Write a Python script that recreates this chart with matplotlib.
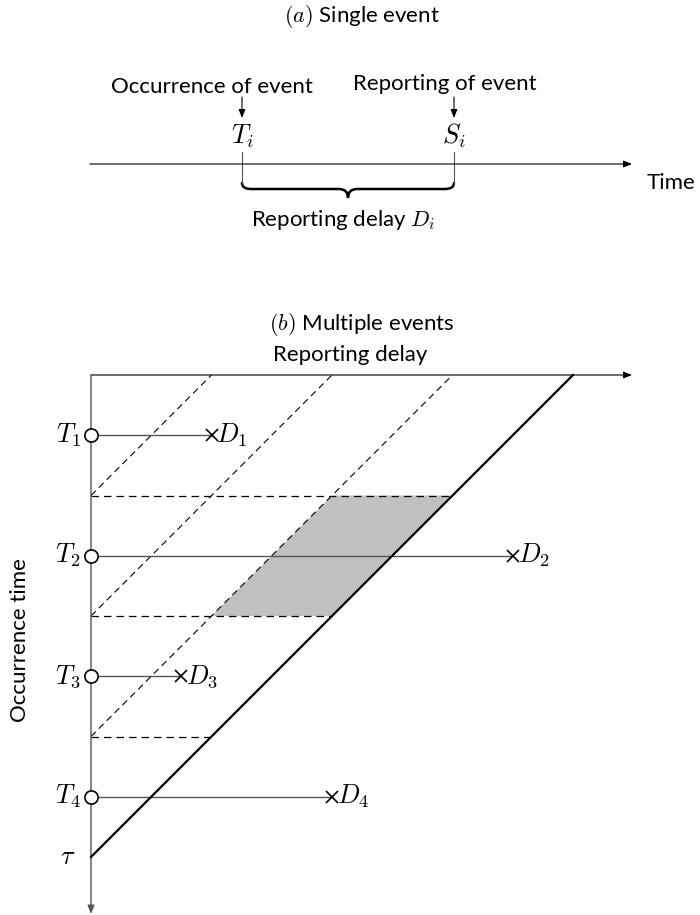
import numpy as np
import matplotlib.pyplot as plt
from matplotlib.path import Path
from matplotlib.patches import PathPatch

plt.rcParams['font.family'] = ['Lato', 'DejaVu Sans']
plt.rcParams['mathtext.fontset'] = 'cm'

# panel (a): one event
occ_time = 0.0      # T_i
rep_time = 1.0      # S_i

# panel (b): several events
T = [0.5, 1.5, 2.5, 3.5]          # occurrence times
D = [1.0, 3.5, 0.75, 2.0]         # reporting delays
tau = 4.0
grid = [1.0, 2.0, 3.0]            # dashed grid levels
cell_rows = (1.0, 2.0)            # occurrence band of shaded cell
cell_report = (3.0, tau)          # reporting-time band of shaded cell

W, H = 700, 915
fig = plt.figure(figsize=(W / 100, H / 100), dpi=100)

split = 335
tcol = '#555555'
fs = 16
ms_fs = 19
arrow = '-|>,head_length=0.5,head_width=0.2'

# ---------- (a) single event ----------
ax1 = fig.add_axes([0, 1 - split / H, 1, split / H])
sx = 212.0          # px per unit
x0 = 242.0
ax1.set_xlim(-x0 / sx, (W - x0) / sx)
ax1.set_ylim(split, 0)
ax1.axis('off')

yl = 164
ax1.annotate('', xy=((632 - x0) / sx, yl), xytext=((90 - x0) / sx, yl),
             arrowprops=dict(arrowstyle=arrow, color='black', lw=0.8,
                             shrinkA=0, shrinkB=0))
ax1.text((647 - x0) / sx, 183, 'Time', fontsize=fs, va='center', ha='left')

for t, lab in [(occ_time, r'$T_i$'), (rep_time, r'$S_i$')]:
    ax1.plot([t, t], [152, 184], color=tcol, lw=0.8)
    ax1.text(t, 136, lab, fontsize=ms_fs, ha='center', va='center')
    ax1.annotate('', xy=(t, 118), xytext=(t, 97),
                 arrowprops=dict(arrowstyle=arrow, color='black', lw=0.8,
                                 shrinkA=0, shrinkB=0))
ax1.text(occ_time - 30 / sx, 87, 'Occurrence of event', fontsize=fs,
         ha='center', va='center')
ax1.text(rep_time - 9 / sx, 84, 'Reporting of event', fontsize=fs,
         ha='center', va='center')

# curly brace under the delay
r = 9 / sx
mid = (occ_time + rep_time) / 2
yt, yb, ytip = 183, 189, 198
verts = [(occ_time, yt), (occ_time, yb), (occ_time + r, yb),
         (mid - r, yb), (mid, yb), (mid, ytip),
         (mid, yb), (mid + r, yb),
         (rep_time - r, yb), (rep_time, yb), (rep_time, yt)]
codes = [Path.MOVETO, Path.CURVE3, Path.CURVE3,
         Path.LINETO, Path.CURVE3, Path.CURVE3,
         Path.CURVE3, Path.CURVE3,
         Path.LINETO, Path.CURVE3, Path.CURVE3]
ax1.add_patch(PathPatch(Path(verts, codes), fill=False, lw=1.8,
                        edgecolor='black', capstyle='round'))
ax1.text(mid - 5 / sx, 220, r'Reporting delay $D_i$', fontsize=fs,
         ha='center', va='center')
xc = (362 - x0) / sx
ax1.text(xc, 17, r'$(a)$ Single event', fontsize=fs, ha='center',
         va='center')
ax1.text(xc, 324, r'$(b)$ Multiple events', fontsize=fs, ha='center',
         va='center')

# ---------- (b) multiple events ----------
ax2 = fig.add_axes([0, 0, 1, 1 - split / H])
u = 120.5
ox, oy = 91.0, 375.0
ax2.set_xlim(-ox / u, (W - ox) / u)
ax2.set_ylim((H - oy) / u, -(oy - split) / u)
ax2.axis('off')

# grey cell: occurrence in cell_rows, t + d in cell_report
r0, r1 = cell_rows
s0, s1 = cell_report
ax2.fill([s0 - r0, s1 - r0, s1 - r1, s0 - r1], [r0, r0, r1, r1],
         color='#c0c0c0', lw=0, zorder=1)

# axes arrows
ax2.annotate('', xy=((632 - ox) / u, 0), xytext=(0, 0),
             arrowprops=dict(arrowstyle=arrow, color='black', lw=0.8,
                             shrinkA=0, shrinkB=0), zorder=3)
ax2.annotate('', xy=(0, (914 - oy) / u), xytext=(0, 0),
             arrowprops=dict(arrowstyle=arrow, color=tcol, lw=1.0,
                             shrinkA=0, shrinkB=0), zorder=3)
ax2.text((350 - ox) / u, -20 / u, 'Reporting delay', fontsize=fs,
         ha='center', va='center')
ax2.text(-71 / u, 2.2, 'Occurrence time', fontsize=fs, ha='center',
         va='center', rotation=90)

# dashed grid
for g in grid:
    ax2.plot([0, tau - g], [g, g], color='black', lw=0.9, ls=(0, (6, 4)),
             zorder=2)
    ax2.plot([0, g], [g, 0], color='black', lw=0.8, ls=(0, (6, 4)), zorder=2)

# reporting boundary
ax2.plot([0, tau], [tau, 0], color='black', lw=1.6, zorder=4)
ax2.text(-15 / u, tau, r'$\tau$', fontsize=ms_fs, ha='right', va='center')

# events
for i, (t, d) in enumerate(zip(T, D)):
    ax2.plot([0, d], [t, t], color=tcol, lw=1.0, zorder=3)
    ax2.plot(d, t, marker='x', color='black', ms=8, mew=1.2, zorder=5)
    ax2.plot(0, t, marker='o', mfc='white', mec='black', ms=9.5, mew=1.2,
             zorder=5)
    ax2.text(-10 / u, t, r'$T_{%d}$' % (i + 1), fontsize=ms_fs, ha='right',
             va='center')
    ax2.text(d + 5 / u, t, r'$D_{%d}$' % (i + 1), fontsize=ms_fs, ha='left',
             va='center')

fig.savefig('out.png', dpi=100)
